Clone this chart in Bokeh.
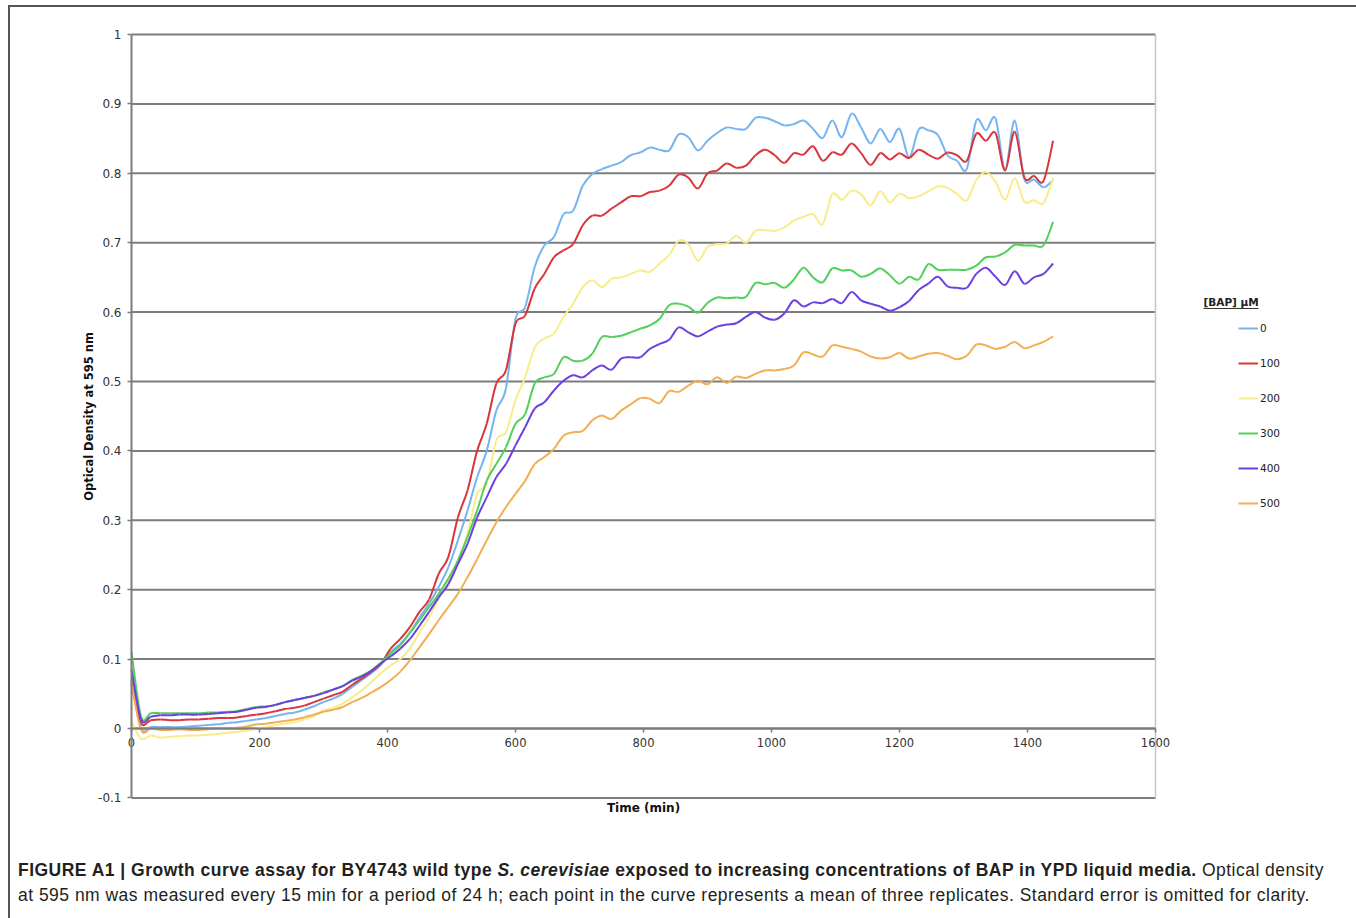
import math
from bokeh.plotting import figure
from bokeh.models import (Range1d, LinearAxis, FixedTicker, Legend, LegendItem,
                          Label, Div, BoxAnnotation)
from bokeh.layouts import column
from bokeh.embed import file_html
from bokeh.resources import INLINE

# ---------------- data ----------------
time_min = list(range(0, 1441, 15))

bap_labels = ["0", "100", "200", "300", "400", "500"]
bap_colors = ["#74b4ef", "#d8363b", "#f8ec8a", "#52cf59", "#6c3fe0", "#f3ad52"]

od_0 = [0.07, 0.0, 0.002, 0.002, 0.002, 0.002, 0.003, 0.004, 0.005, 0.006, 0.008, 0.009, 0.011, 0.013,
        0.015, 0.018, 0.021, 0.023, 0.027, 0.032, 0.038, 0.043, 0.05, 0.06, 0.07, 0.08, 0.092,
        0.11, 0.122, 0.138, 0.16, 0.18, 0.204, 0.232, 0.271, 0.314, 0.362, 0.40, 0.458, 0.49, 0.59,
        0.607, 0.665, 0.696, 0.708, 0.741, 0.746, 0.782, 0.799, 0.806, 0.811, 0.816, 0.826, 0.83,
        0.837, 0.834, 0.833, 0.856, 0.852, 0.833, 0.847, 0.858, 0.866, 0.864, 0.864, 0.88, 0.88,
        0.875, 0.869, 0.871, 0.876, 0.864, 0.851, 0.876, 0.852, 0.886, 0.866, 0.843, 0.864, 0.845,
        0.864, 0.823, 0.863, 0.862, 0.855, 0.826, 0.818, 0.806, 0.876, 0.862, 0.879, 0.806, 0.876,
        0.792, 0.791, 0.78, 0.79]

od_100 = [0.065, 0.008, 0.012, 0.013, 0.012, 0.012, 0.013, 0.013, 0.014, 0.015, 0.015, 0.016, 0.018,
          0.02, 0.022, 0.025, 0.028, 0.03, 0.033, 0.038, 0.043, 0.048, 0.053, 0.063, 0.072, 0.082, 0.094,
          0.115, 0.129, 0.146, 0.168, 0.186, 0.223, 0.247, 0.304, 0.343, 0.40, 0.439, 0.497, 0.516,
          0.583, 0.595, 0.634, 0.655, 0.679, 0.689, 0.698, 0.725, 0.739, 0.739, 0.749, 0.758, 0.767,
          0.767, 0.773, 0.775, 0.782, 0.798, 0.794, 0.778, 0.80, 0.804, 0.814, 0.808, 0.811, 0.826,
          0.834, 0.826, 0.815, 0.829, 0.827, 0.839, 0.818, 0.83, 0.827, 0.843, 0.829, 0.812, 0.829,
          0.82, 0.829, 0.822, 0.834, 0.827, 0.821, 0.83, 0.826, 0.818, 0.857, 0.847, 0.858, 0.804,
          0.86, 0.794, 0.796, 0.789, 0.847]

od_200 = [0.01, -0.015, -0.01, -0.013, -0.012, -0.011, -0.01, -0.01, -0.009, -0.008, -0.006, -0.005,
          -0.003, 0.0, 0.002, 0.005, 0.007, 0.009, 0.013, 0.018, 0.026, 0.03, 0.036, 0.045, 0.055, 0.067,
          0.08, 0.091, 0.1, 0.115, 0.138, 0.16, 0.187, 0.213, 0.242, 0.281, 0.338, 0.353, 0.415, 0.427,
          0.473, 0.506, 0.549, 0.562, 0.569, 0.593, 0.612, 0.636, 0.646, 0.636, 0.648, 0.65, 0.655,
          0.66, 0.658, 0.67, 0.682, 0.703, 0.698, 0.674, 0.694, 0.698, 0.699, 0.71, 0.70, 0.717, 0.718,
          0.717, 0.722, 0.732, 0.737, 0.741, 0.727, 0.77, 0.762, 0.775, 0.77, 0.754, 0.774, 0.758,
          0.771, 0.764, 0.767, 0.774, 0.781, 0.779, 0.77, 0.761, 0.79, 0.802, 0.788, 0.762, 0.793,
          0.759, 0.761, 0.757, 0.793]

od_300 = [0.11, 0.017, 0.022, 0.022, 0.022, 0.022, 0.022, 0.022, 0.023, 0.023, 0.024, 0.025, 0.028,
          0.031, 0.032, 0.034, 0.038, 0.041, 0.044, 0.047, 0.052, 0.056, 0.061, 0.07, 0.076, 0.084, 0.095,
          0.108, 0.12, 0.138, 0.156, 0.175, 0.194, 0.216, 0.242, 0.276, 0.314, 0.357, 0.381, 0.405,
          0.439, 0.453, 0.497, 0.506, 0.511, 0.535, 0.53, 0.53, 0.54, 0.564, 0.564, 0.566, 0.571,
          0.576, 0.581, 0.59, 0.61, 0.612, 0.608, 0.599, 0.613, 0.621, 0.62, 0.621, 0.622, 0.642, 0.64,
          0.642, 0.635, 0.647, 0.664, 0.65, 0.643, 0.663, 0.66, 0.66, 0.651, 0.655, 0.663, 0.653,
          0.641, 0.651, 0.647, 0.669, 0.661, 0.661, 0.661, 0.661, 0.667, 0.679, 0.68, 0.686, 0.697,
          0.696, 0.696, 0.696, 0.73]

od_400 = [0.085, 0.013, 0.017, 0.019, 0.019, 0.02, 0.02, 0.02, 0.021, 0.022, 0.023, 0.024, 0.027,
          0.03, 0.031, 0.034, 0.038, 0.041, 0.044, 0.047, 0.051, 0.056, 0.061, 0.069, 0.075, 0.083, 0.094,
          0.104, 0.115, 0.129, 0.148, 0.168, 0.189, 0.208, 0.237, 0.266, 0.304, 0.333, 0.362, 0.381,
          0.408, 0.434, 0.461, 0.47, 0.487, 0.501, 0.509, 0.506, 0.516, 0.523, 0.517, 0.533, 0.535,
          0.535, 0.547, 0.554, 0.56, 0.578, 0.571, 0.565, 0.572, 0.579, 0.582, 0.584, 0.593, 0.60,
          0.592, 0.589, 0.598, 0.617, 0.608, 0.614, 0.613, 0.619, 0.613, 0.629, 0.617, 0.612, 0.608,
          0.602, 0.607, 0.616, 0.632, 0.641, 0.651, 0.637, 0.635, 0.635, 0.655, 0.664, 0.651, 0.639,
          0.659, 0.641, 0.65, 0.655, 0.67]

od_500 = [0.065, -0.002, 0.0, -0.002, -0.002, -0.001, -0.002, -0.002, -0.001, 0.0, 0.0, 0.001, 0.003,
          0.006, 0.007, 0.009, 0.011, 0.013, 0.016, 0.02, 0.024, 0.027, 0.031, 0.038, 0.044, 0.052, 0.06,
          0.07, 0.082, 0.098, 0.117, 0.136, 0.156, 0.175, 0.194, 0.218, 0.244, 0.271, 0.297, 0.319,
          0.338, 0.357, 0.381, 0.391, 0.403, 0.422, 0.427, 0.429, 0.444, 0.451, 0.446, 0.458, 0.467,
          0.476, 0.475, 0.469, 0.486, 0.485, 0.494, 0.501, 0.496, 0.506, 0.498, 0.507, 0.505, 0.511,
          0.516, 0.516, 0.518, 0.523, 0.542, 0.539, 0.536, 0.552, 0.55, 0.547, 0.543, 0.536, 0.533,
          0.535, 0.541, 0.533, 0.536, 0.54, 0.541, 0.537, 0.532, 0.537, 0.553, 0.552, 0.547, 0.55,
          0.557, 0.548, 0.552, 0.557, 0.565]

series = [od_0, od_100, od_200, od_300, od_400, od_500]
for s in series:
    assert len(s) == len(time_min), len(s)

x_ticks = [0, 200, 400, 600, 800, 1000, 1200, 1400, 1600]
y_ticks = [-0.1, 0, 0.1, 0.2, 0.3, 0.4, 0.5, 0.6, 0.7, 0.8, 0.9, 1]
y_tick_labels = ["-0.1", "0", "0.1", "0.2", "0.3", "0.4", "0.5", "0.6", "0.7", "0.8", "0.9", "1"]
x_min, x_max = 0, 1600
y_min, y_max = -0.1, 1

x_title = "Time (min)"
y_title = "Optical Density at 595 nm"
legend_title = "[BAP] \u00b5M"
caption_bold = "FIGURE A1 | Growth curve assay for BY4743 wild type "
caption_italic = "S. cerevisiae"
caption_bold2 = " exposed to increasing concentrations of BAP in YPD liquid media."
caption_line1_rest = " Optical density"
caption_line2 = ("at 595 nm was measured every 15 min for a period of 24 h; each point in the curve "
                 "represents a mean of three replicates. Standard error is omitted for clarity.")

# ---------------- layout geometry (page pixels) ----------------
X0_PX, PX_PER_MIN = 131, 0.64        # x = 0 at 131 px
Y0_PX, PX_PER_OD = 728, 694          # y = 0 at 728 px
FL, FR, FT, FB = 60, 1340, 14, 826   # frame edges on the page
CANVAS_X, CANVAS_Y = 10, 7           # canvas origin on the page
W, H = 1341, 848

GRID = "#7d7d7d"
TICK_FONT = "DejaVu Sans"


def smooth_segments(xs, ys):
    """Cubic Bezier pieces through every data point (Excel-style smoothed line)."""
    n = len(xs)
    x0, y0, x1, y1, cx0, cy0, cx1, cy1 = ([] for _ in range(8))
    for i in range(n - 1):
        xa, ya = xs[max(i - 1, 0)], ys[max(i - 1, 0)]
        xb, yb = xs[i], ys[i]
        xc, yc = xs[i + 1], ys[i + 1]
        xd, yd = xs[min(i + 2, n - 1)], ys[min(i + 2, n - 1)]
        x0.append(xb); y0.append(yb); x1.append(xc); y1.append(yc)
        cx0.append(xb + (xc - xa) / 6.0); cy0.append(yb + (yc - ya) / 6.0)
        cx1.append(xc - (xd - xb) / 6.0); cy1.append(yc - (yd - yb) / 6.0)
    return dict(x0=x0, y0=y0, x1=x1, y1=y1, cx0=cx0, cy0=cy0, cx1=cx1, cy1=cy1)


p = figure(width=W, height=H,
           x_range=Range1d((FL - X0_PX) / PX_PER_MIN, (FR - X0_PX) / PX_PER_MIN),
           y_range=Range1d((Y0_PX - FB) / PX_PER_OD, (Y0_PX - FT) / PX_PER_OD),
           x_axis_location=None,
           output_backend="svg", toolbar_location=None,
           min_border_left=FL - CANVAS_X, min_border_right=CANVAS_X + W - FR,
           min_border_top=FT - CANVAS_Y, min_border_bottom=CANVAS_Y + H - FB)
p.outline_line_color = None
p.background_fill_color = "white"
p.border_fill_color = "white"
p.grid.visible = False

# horizontal gridlines across the plot area
n = len(y_ticks)
p.segment(x0=[x_min] * n, x1=[x_max] * n, y0=y_ticks, y1=y_ticks,
          line_color=GRID, line_width=2)
# light right edge of the plot area
p.segment(x0=[x_max], x1=[x_max], y0=[y_min], y1=[y_max], line_color="#c6c6c6", line_width=1.5)

# y axis drawn at x = 0
yax = p.yaxis[0]
yax.fixed_location = 0
yax.bounds = (y_min, y_max)
yax.ticker = FixedTicker(ticks=y_ticks)
yax.major_label_overrides = {t: l for t, l in zip(y_ticks, y_tick_labels)}
yax.axis_line_color = GRID
yax.axis_line_width = 2
yax.major_tick_line_color = GRID
yax.major_tick_line_width = 1.5
yax.major_tick_in = 0
yax.major_tick_out = 4
yax.minor_tick_line_color = None
yax.major_label_text_font = TICK_FONT
yax.major_label_text_font_size = "12px"
yax.major_label_text_color = "#333333"
yax.major_label_standoff = 6

# x axis drawn at y = 0
xax = LinearAxis(ticker=FixedTicker(ticks=x_ticks), fixed_location=0, bounds=(x_min, x_max),
                 axis_line_color=GRID, axis_line_width=2,
                 major_tick_line_color=GRID, major_tick_line_width=1.5,
                 major_tick_in=0, major_tick_out=4, minor_tick_line_color=None,
                 major_label_text_font=TICK_FONT, major_label_text_font_size="11.5px",
                 major_label_text_color="#333333", major_label_standoff=5)
p.add_layout(xax, "below")

# axis titles
p.add_layout(Label(x=643 - FL, y=FB - 807, x_units="screen", y_units="screen", text=x_title,
                   text_font=TICK_FONT, text_font_size="12px", text_font_style="bold",
                   text_color="#111111", text_align="center", text_baseline="middle"))
p.add_layout(Label(x=88 - FL, y=FB - 416, x_units="screen", y_units="screen", text=y_title,
                   angle=math.pi / 2, text_font=TICK_FONT, text_font_size="11.5px",
                   text_font_style="bold", text_color="#111111",
                   text_align="center", text_baseline="middle"))

renderers = []
for vals, col in zip(series, bap_colors):
    r = p.bezier(line_color=col, line_width=2, **smooth_segments(time_min, vals))
    renderers.append(r)

legend = Legend(items=[LegendItem(label=l, renderers=[r]) for l, r in zip(bap_labels, renderers)],
                location=(1238 - FL, FB - 512.7), border_line_color=None, background_fill_alpha=0,
                padding=0, margin=0, spacing=15, label_height=20, glyph_height=20,
                glyph_width=20, label_standoff=2, label_text_font=TICK_FONT,
                label_text_font_size="10.5px", label_text_color="#222222")
p.add_layout(legend)

p.add_layout(Label(x=1203 - FL, y=FB - 301.7, x_units="screen", y_units="screen", text=legend_title,
                   text_font=TICK_FONT, text_font_size="10.5px", text_font_style="bold",
                   text_color="#222222", text_baseline="middle", text_align="left"))
# underline of the legend title
p.add_layout(BoxAnnotation(left=1203 - FL, right=1258 - FL, bottom=FB - 308.5, top=FB - 307.5,
                           left_units="screen", right_units="screen",
                           bottom_units="screen", top_units="screen",
                           fill_color="#333333", fill_alpha=1, line_color=None))

caption_html = (
    '<div style="font-family:\'Liberation Sans\',Arial,sans-serif;'
    'font-size:17.5px;letter-spacing:0.48px;line-height:25px;color:#231f20;'
    'margin-top:-2px;padding:0 0 0 3px;white-space:nowrap;">'
    '<b>' + caption_bold + '<i>' + caption_italic + '</i>' + caption_bold2 + '</b>'
    + caption_line1_rest + '<br>' + caption_line2 + '</div>')
cap = Div(text=caption_html, width=W, height=57)

layout = column(p, cap, styles={"border": "2px solid #555555", "margin": "5px 0 0 8px",
                                "background-color": "white"})

open("out.html", "w").write(file_html(layout, INLINE))
